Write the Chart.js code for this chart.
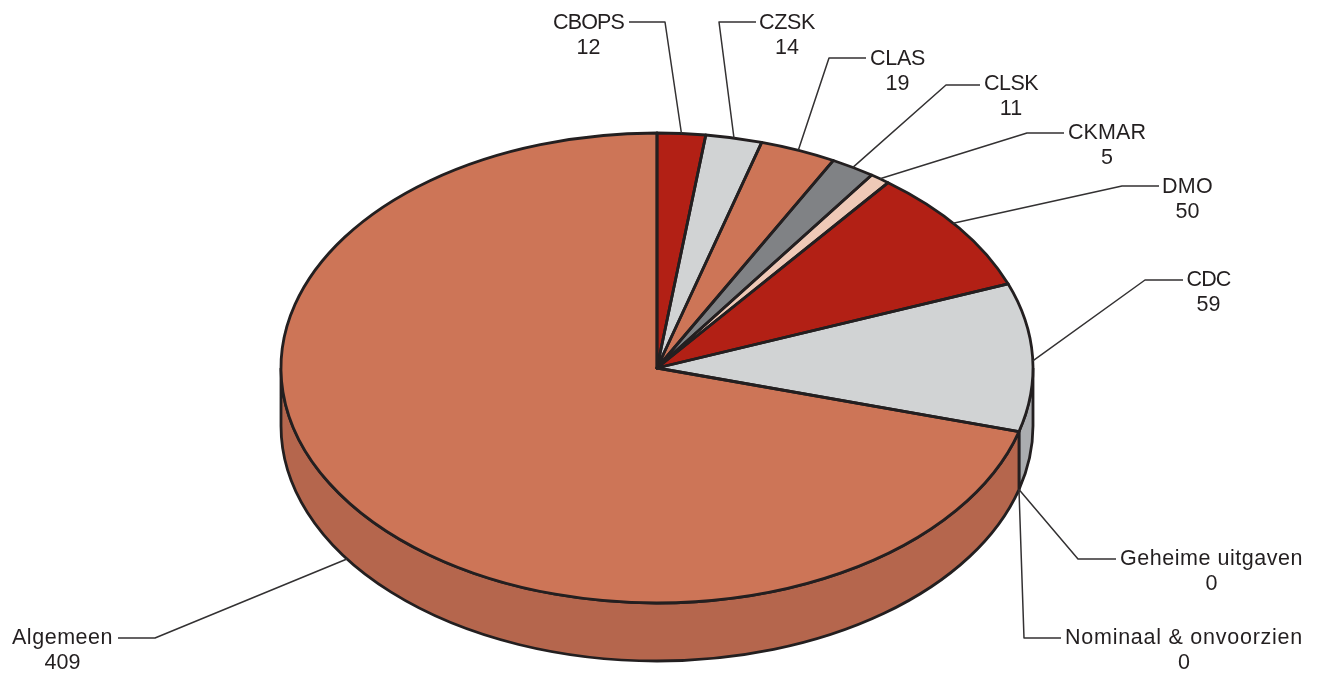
<!DOCTYPE html>
<html>
<head>
<meta charset="utf-8">
<style>
  html, body { margin: 0; padding: 0; background: #fff; }
  #wrap { position: relative; width: 1321px; height: 675px; }
</style>
<script src="https://cdn.jsdelivr.net/npm/chart.js@4/dist/chart.umd.min.js"></script>
</head>
<body>
<div id="wrap"><canvas id="pie" width="1321" height="675"></canvas></div>
<script>
const categories = ['CBOPS', 'CZSK', 'CLAS', 'CLSK', 'CKMAR', 'DMO', 'CDC', 'Geheime uitgaven', 'Nominaal & onvoorzien', 'Algemeen'];
const values = [12, 14, 19, 11, 5, 50, 59, 0, 0, 409];
const topColors = ['#b22015', '#d1d3d4', '#cd7557', '#808285', '#efc9b7', '#b22015', '#d1d3d4', '#808285', '#efc9b7', '#cd7557'];
const sideColors = ['#8e1a11', '#abadb0', '#b5664d', '#68696c', '#c9a898', '#8e1a11', '#abadb0', '#68696c', '#c9a898', '#b5664d'];

// label placement, same order as categories: text centre, elbow of the leader line, side the line leaves from
const labelX = [588.5, 787, 897.5, 1011, 1107, 1187.5, 1208.5, 1211.5, 1184, 62.5];
const labelY = [23, 23, 59, 84, 133, 187, 280, 559, 638, 638];
const labelW = [71, 56, 55, 54, 78, 51, 44, 183, 238, 101];   // text width in the picture
const elbowX = [665, 719, 829, 946, 1027, 1122, 1145, 1078, 1024, 155];
const elbowY = [22, 22, 58, 85, 133, 186, 280, 559, 638, 638];
const stubX = [629, 756, 866, 980, 1064, 1159, 1183, 1116, 1061, 118];
// small correction (degrees) of where the leader touches the rim
const anchorShift = [0, 0, 0, 0, 0, -1.5, 0.9, 0, 0, 2.7];
const onSide = [false, false, false, false, false, false, false, true, true, true];

const INK = '#231f20';
const TILT = 235 / 376;   // ellipse height / width
const DEPTH = 58;
const OUTLINE = 2.8;
const FONT = '21.5px "Liberation Sans", Arial, sans-serif';

// The library fills the slices as a circle, this plugin squashes it and adds rim, outlines and labels
const tiltedPie = {
    id: 'tiltedPie',
    beforeDatasetsDraw(chart) {
        const ctx = chart.ctx;
        const arcs = chart.getDatasetMeta(0).data;
        const cx = arcs[0].x, cy = arcs[0].y, r = arcs[0].outerRadius, ry = r * TILT;

        // side wall, only the front half is visible
        arcs.forEach((arc, i) => {
            const from = Math.max(arc.startAngle, 0);
            const to = Math.min(arc.endAngle, Math.PI);
            if (to <= from) return;
            ctx.beginPath();
            ctx.ellipse(cx, cy, r, ry, 0, from, to);
            ctx.ellipse(cx, cy + DEPTH, r, ry, 0, to, from, true);
            ctx.closePath();
            ctx.fillStyle = sideColors[i];
            ctx.fill();
            ctx.strokeStyle = INK;
            ctx.lineWidth = OUTLINE;
            ctx.stroke();
        });

        ctx.save();
        ctx.translate(cx, cy);
        ctx.scale(1, TILT);
        ctx.translate(-cx, -cy);
    },
    afterDatasetsDraw(chart) {
        const ctx = chart.ctx;
        ctx.restore();

        const arcs = chart.getDatasetMeta(0).data;
        const cx = arcs[0].x, cy = arcs[0].y, r = arcs[0].outerRadius, ry = r * TILT;
        const rim = (a) => [cx + r * Math.cos(a), cy + ry * Math.sin(a)];

        // slice outlines
        ctx.strokeStyle = INK;
        ctx.lineWidth = OUTLINE;
        ctx.lineJoin = 'round';
        arcs.forEach((arc) => {
            if (arc.endAngle <= arc.startAngle) return;
            ctx.beginPath();
            ctx.moveTo(cx, cy);
            ctx.ellipse(cx, cy, r, ry, 0, arc.startAngle, arc.endAngle);
            ctx.closePath();
            ctx.stroke();
        });

        // leader lines and labels
        ctx.font = FONT;
        ctx.textAlign = 'center';
        ctx.textBaseline = 'middle';
        categories.forEach((name, i) => {
            const mid = (arcs[i].startAngle + arcs[i].endAngle) / 2 + anchorShift[i] * Math.PI / 180;
            const [ax, ay] = rim(mid);
            ctx.beginPath();
            ctx.moveTo(ax, ay + (onSide[i] ? DEPTH : 0));
            ctx.lineTo(elbowX[i], elbowY[i]);
            ctx.lineTo(stubX[i], elbowY[i]);
            ctx.strokeStyle = '#333132';
            ctx.lineWidth = 1.5;
            ctx.stroke();

            ctx.fillStyle = INK;
            ctx.letterSpacing = '0px';
            const spread = (labelW[i] - ctx.measureText(name).width) / name.length;
            ctx.letterSpacing = spread.toFixed(2) + 'px';
            ctx.fillText(name, labelX[i], labelY[i]);
            ctx.letterSpacing = '0px';
            ctx.fillText(String(values[i]), labelX[i], labelY[i] + 25);
        });
    }
};

new Chart(document.getElementById('pie'), {
    type: 'pie',
    data: {
        labels: categories,
        datasets: [{
            data: values,
            backgroundColor: topColors,
            borderWidth: 0,
            radius: 376,
            clip: false
        }]
    },
    options: {
        responsive: false,
        animation: false,
        layout: { padding: { top: 61, right: 7 } },
        plugins: { legend: { display: false }, tooltip: { enabled: false } }
    },
    plugins: [tiltedPie]
});
</script>
</body>
</html>
